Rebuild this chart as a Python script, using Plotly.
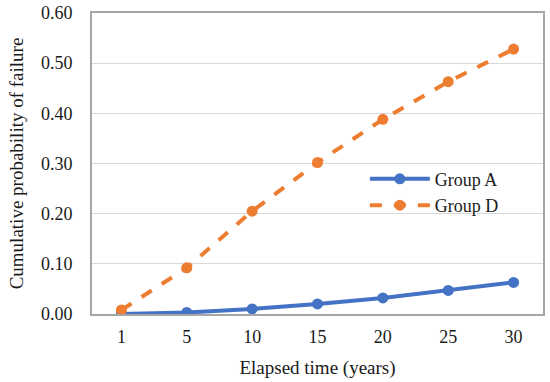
import plotly.graph_objects as go

years = ["1", "5", "10", "15", "20", "25", "30"]
group_a = [0.000, 0.003, 0.010, 0.020, 0.032, 0.047, 0.063]
group_d = [0.008, 0.092, 0.205, 0.302, 0.388, 0.463, 0.528]
y_ticks = [0.0, 0.1, 0.2, 0.3, 0.4, 0.5, 0.6]
y_tick_labels = ["0.00", "0.10", "0.20", "0.30", "0.40", "0.50", "0.60"]

font = "Liberation Serif, Times New Roman, serif"

fig = go.Figure()
fig.add_trace(go.Scatter(
    x=years, y=group_a, name="Group A", mode="lines+markers",
    line=dict(color="#4472C4", width=4),
    marker=dict(color="#4472C4", size=11),
))
fig.add_trace(go.Scatter(
    x=years, y=group_d, name="Group D", mode="lines+markers",
    line=dict(color="#ED7D31", width=4, dash="dash"),
    marker=dict(color="#ED7D31", size=11),
))

fig.update_layout(
    width=550, height=382,
    margin=dict(l=92, r=7, t=13, b=68),
    paper_bgcolor="white", plot_bgcolor="white",
    font=dict(family=font, size=18, color="#1a1a1a"),
    showlegend=True,
    legend=dict(
        x=0.605, y=0.405, xanchor="left", yanchor="middle",
        bgcolor="rgba(0,0,0,0)", font=dict(size=18, family=font),
        itemwidth=60, tracegroupgap=2,
    ),
    xaxis=dict(
        type="category", automargin=False,
        title=dict(text="Elapsed time (years)", font=dict(size=19, family=font), standoff=15),
        showline=True, linecolor="#A6A6A6", linewidth=2, mirror=True,
        showgrid=False, ticks="", tickfont=dict(size=18, family=font), ticklabelstandoff=5,
    ),
    yaxis=dict(
        automargin=False,
        title=dict(text="Cumulative probability of failure", font=dict(size=19, family=font), standoff=12),
        range=[0, 0.6], tickvals=y_ticks, ticktext=y_tick_labels,
        showline=True, linecolor="#A6A6A6", linewidth=2, mirror=True,
        showgrid=True, gridcolor="#D9D9D9", gridwidth=1.2,
        zeroline=False, ticks="", tickfont=dict(size=18, family=font), ticklabelstandoff=14,
    ),
)

fig.write_html("out.html", config={"displayModeBar": False},
               post_script="document.body.style.margin='0';")
